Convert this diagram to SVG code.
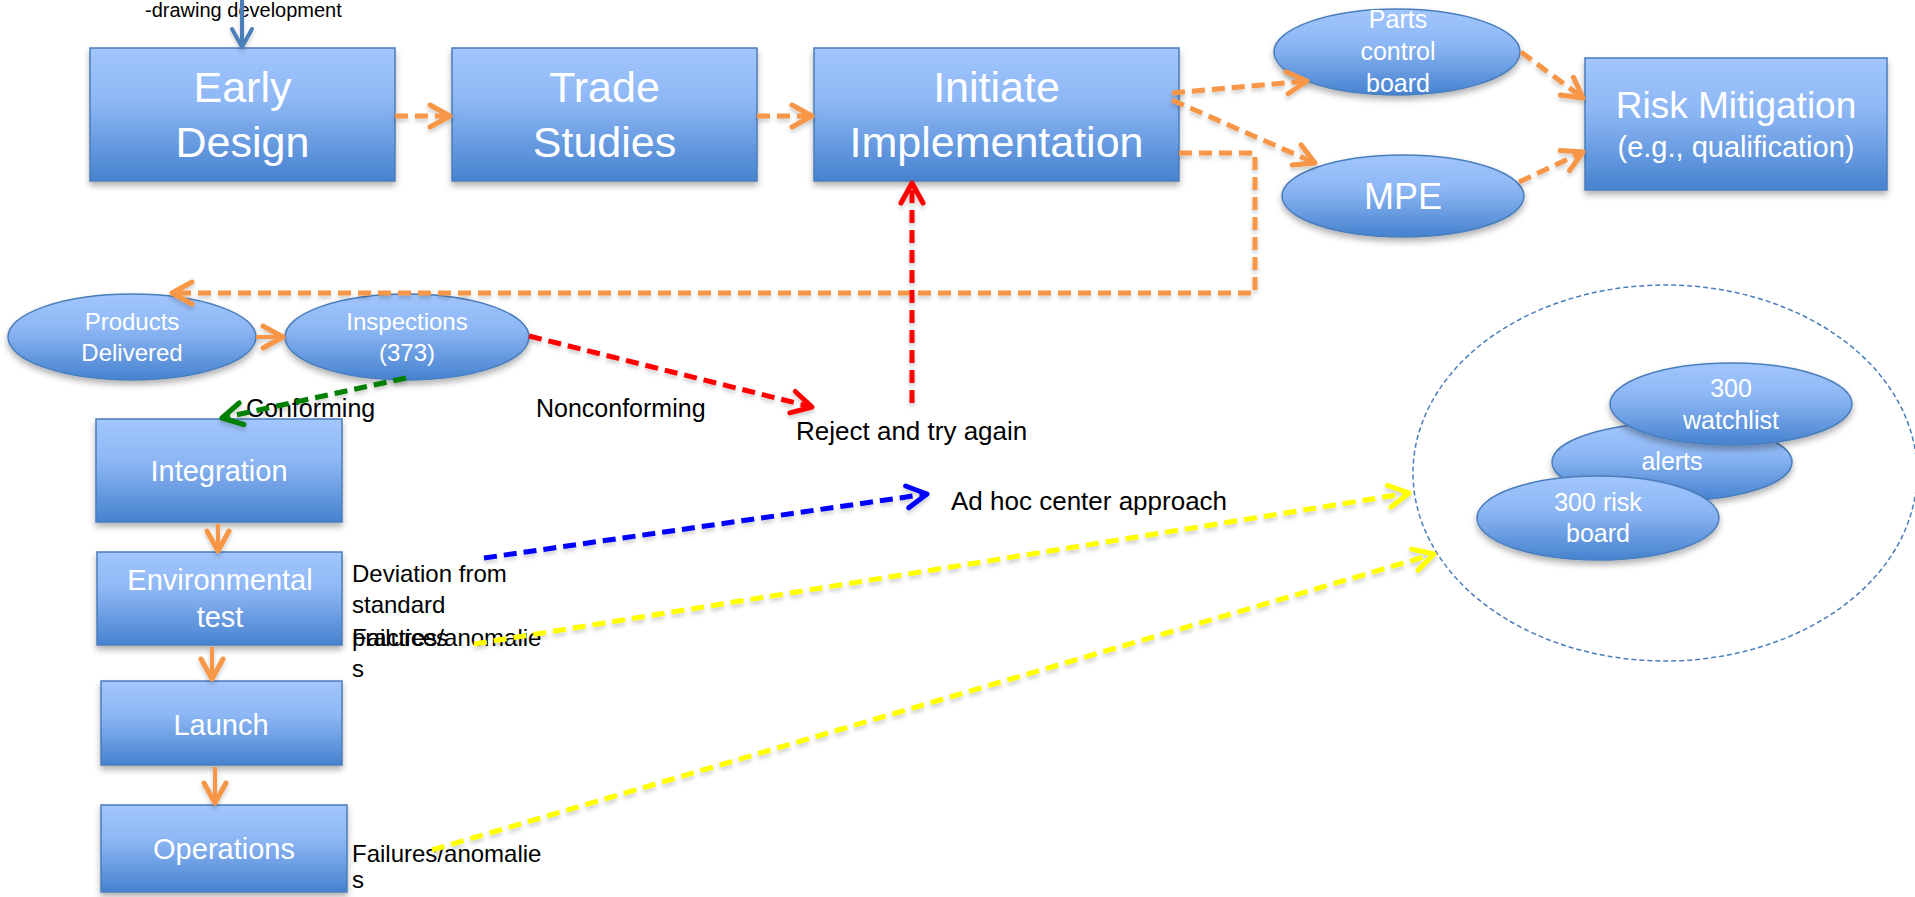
<svg xmlns="http://www.w3.org/2000/svg" width="1915" height="897" viewBox="0 0 1915 897">
<defs>
  <linearGradient id="g" x1="0" y1="0" x2="0" y2="1">
    <stop offset="0" stop-color="#a2c6fd"/>
    <stop offset="0.4" stop-color="#8db7f4"/>
    <stop offset="1" stop-color="#4682cf"/>
  </linearGradient>
  <filter id="sh" x="-10%" y="-10%" width="120%" height="130%">
    <feDropShadow dx="0" dy="4" stdDeviation="3" flood-color="#000" flood-opacity="0.3"/>
  </filter>
  <filter id="lsh" filterUnits="userSpaceOnUse" x="0" y="0" width="1915" height="897">
    <feDropShadow dx="0" dy="3" stdDeviation="2" flood-color="#000" flood-opacity="0.2"/>
  </filter>
  <marker id="mo" markerUnits="userSpaceOnUse" markerWidth="30" markerHeight="30" refX="0" refY="0" viewBox="-24 -15 30 30" orient="auto" overflow="visible">
    <path d="M -20 -11 L 0 0 L -20 11" fill="none" stroke="#f79646" stroke-width="5" stroke-linecap="round" stroke-linejoin="round"/>
  </marker>
  <marker id="mr" markerUnits="userSpaceOnUse" markerWidth="30" markerHeight="30" refX="0" refY="0" viewBox="-24 -15 30 30" orient="auto" overflow="visible">
    <path d="M -20 -11 L 0 0 L -20 11" fill="none" stroke="#ff0000" stroke-width="5" stroke-linecap="round" stroke-linejoin="round"/>
  </marker>
  <marker id="mg" markerUnits="userSpaceOnUse" markerWidth="30" markerHeight="30" refX="0" refY="0" viewBox="-24 -15 30 30" orient="auto" overflow="visible">
    <path d="M -20 -11 L 0 0 L -20 11" fill="none" stroke="#008000" stroke-width="5" stroke-linecap="round" stroke-linejoin="round"/>
  </marker>
  <marker id="mb" markerUnits="userSpaceOnUse" markerWidth="30" markerHeight="30" refX="0" refY="0" viewBox="-24 -15 30 30" orient="auto" overflow="visible">
    <path d="M -20 -11 L 0 0 L -20 11" fill="none" stroke="#0000ff" stroke-width="5" stroke-linecap="round" stroke-linejoin="round"/>
  </marker>
  <marker id="my" markerUnits="userSpaceOnUse" markerWidth="30" markerHeight="30" refX="0" refY="0" viewBox="-24 -15 30 30" orient="auto" overflow="visible">
    <path d="M -20 -11 L 0 0 L -20 11" fill="none" stroke="#ffff00" stroke-width="5" stroke-linecap="round" stroke-linejoin="round"/>
  </marker>
  <marker id="ms" markerUnits="userSpaceOnUse" markerWidth="30" markerHeight="30" refX="0" refY="0" viewBox="-24 -15 30 30" orient="auto" overflow="visible">
    <path d="M -18 -10 L 0 0 L -18 10" fill="none" stroke="#4a7ebb" stroke-width="4" stroke-linecap="round" stroke-linejoin="round"/>
  </marker>
</defs>
<style>
  .box { fill: url(#g); stroke: #4a7ebb; stroke-width: 1.5; filter: url(#sh); }
  .w { fill: #ffffff; font-family: "Liberation Sans", Arial, sans-serif; text-anchor: middle; }
  .k { fill: #000000; font-family: "Liberation Sans", Arial, sans-serif; }
  .c { fill: none; stroke-width: 5; stroke-dasharray: 13 7; }
  .o { stroke: #f79646; }
  .solid { fill: none; stroke: #f79646; stroke-width: 4; }
</style>
<rect width="1915" height="897" fill="#ffffff"/>

<g id="early-design">
  <rect class="box" x="90" y="48" width="305" height="133"/>
  <text class="w" font-size="43"><tspan x="242.5" y="102">Early</tspan><tspan x="242.5" y="157">Design</tspan></text>
</g>
<g id="trade-studies">
  <rect class="box" x="452" y="48" width="305" height="133"/>
  <text class="w" font-size="43"><tspan x="604.5" y="102">Trade</tspan><tspan x="604.5" y="157">Studies</tspan></text>
</g>
<g id="initiate-implementation">
  <rect class="box" x="814" y="48" width="365" height="133"/>
  <text class="w" font-size="43"><tspan x="996.5" y="102">Initiate</tspan><tspan x="996.5" y="157">Implementation</tspan></text>
</g>
<g id="parts-control-board">
  <ellipse class="box" cx="1397" cy="52" rx="123" ry="43"/>
  <text class="w" font-size="25"><tspan x="1398" y="28">Parts</tspan><tspan x="1398" y="60">control</tspan><tspan x="1398" y="92">board</tspan></text>
</g>
<g id="mpe">
  <ellipse class="box" cx="1403" cy="196" rx="121" ry="41"/>
  <text class="w" font-size="36" x="1403" y="209">MPE</text>
</g>
<g id="risk-mitigation">
  <rect class="box" x="1585" y="58" width="302" height="132"/>
  <text class="w"><tspan x="1736" y="118" font-size="37">Risk Mitigation</tspan><tspan x="1736" y="157" font-size="29">(e.g., qualification)</tspan></text>
</g>
<g id="products-delivered">
  <ellipse class="box" cx="132" cy="337" rx="124" ry="43"/>
  <text class="w" font-size="24"><tspan x="132" y="330">Products</tspan><tspan x="132" y="361">Delivered</tspan></text>
</g>
<g id="inspections">
  <ellipse class="box" cx="407" cy="337" rx="122" ry="43"/>
  <text class="w" font-size="24"><tspan x="407" y="330">Inspections</tspan><tspan x="407" y="361">(373)</tspan></text>
</g>
<g id="integration">
  <rect class="box" x="96" y="419" width="246" height="103"/>
  <text class="w" font-size="29" x="219" y="481">Integration</text>
</g>
<g id="environmental-test">
  <rect class="box" x="97" y="552" width="245" height="93"/>
  <text class="w" font-size="29"><tspan x="220" y="590">Environmental</tspan><tspan x="220" y="627">test</tspan></text>
</g>
<g id="launch">
  <rect class="box" x="101" y="681" width="241" height="84"/>
  <text class="w" font-size="29" x="221" y="735">Launch</text>
</g>
<g id="operations">
  <rect class="box" x="101" y="805" width="246" height="87"/>
  <text class="w" font-size="29" x="224" y="859">Operations</text>
</g>
<g id="risk-group">
  <ellipse cx="1665" cy="473" rx="252" ry="188" fill="none" stroke="#4a7ebb" stroke-width="1.5" stroke-dasharray="5 3"/>
</g>
<g id="alerts">
  <ellipse class="box" cx="1672" cy="462" rx="120" ry="39"/>
  <text class="w" font-size="25" x="1672" y="470">alerts</text>
</g>
<g id="watchlist">
  <ellipse class="box" cx="1731" cy="404" rx="121" ry="41"/>
  <text class="w" font-size="25"><tspan x="1731" y="397">300</tspan><tspan x="1731" y="429">watchlist</tspan></text>
</g>
<g id="risk-board">
  <ellipse class="box" cx="1598" cy="518" rx="121" ry="42"/>
  <text class="w" font-size="25"><tspan x="1598" y="511">300 risk</tspan><tspan x="1598" y="542">board</tspan></text>
</g>

<g id="labels">
  <text class="k" font-size="20" x="145" y="17">-drawing development</text>
  <text class="k" font-size="25" x="246" y="417">Conforming</text>
  <text class="k" font-size="25" x="536" y="417">Nonconforming</text>
  <text class="k" font-size="26" x="796" y="440">Reject and try again</text>
  <text class="k" font-size="26" x="951" y="510">Ad hoc center approach</text>
  <text class="k" font-size="24"><tspan x="352" y="582">Deviation from</tspan><tspan x="352" y="613">standard</tspan><tspan x="352" y="646">practices</tspan></text>
  <text class="k" font-size="24"><tspan x="352" y="646">Failures/anomalie</tspan><tspan x="352" y="677">s</tspan></text>
  <text class="k" font-size="24"><tspan x="352" y="862">Failures/anomalie</tspan><tspan x="352" y="888">s</tspan></text>
</g>

<g id="connectors" filter="url(#lsh)">
  <line x1="242" y1="0" x2="242" y2="47" stroke="#4a7ebb" stroke-width="4" marker-end="url(#ms)"/>
  <line class="c o" x1="395" y1="116" x2="450" y2="116" marker-end="url(#mo)"/>
  <line class="c o" x1="757" y1="116" x2="812" y2="116" marker-end="url(#mo)"/>
  <line class="c o" x1="1172" y1="93" x2="1307" y2="81" marker-end="url(#mo)"/>
  <line class="c o" x1="1172" y1="100" x2="1315" y2="163" marker-end="url(#mo)"/>
  <line class="c o" x1="1521" y1="52" x2="1583" y2="98" marker-end="url(#mo)"/>
  <line class="c o" x1="1519" y1="182" x2="1583" y2="152" marker-end="url(#mo)"/>
  <polyline class="c o" points="1179,153 1255,153 1255,293 172,293" marker-end="url(#mo)"/>
  <line class="solid" x1="256" y1="337" x2="283" y2="337" marker-end="url(#mo)"/>
  <line class="c" stroke="#008000" x1="406" y1="378" x2="222" y2="418" marker-end="url(#mg)"/>
  <line class="c" stroke="#ff0000" x1="529" y1="336" x2="812" y2="407" marker-end="url(#mr)"/>
  <line class="c" stroke="#ff0000" x1="912" y1="403" x2="912" y2="183" marker-end="url(#mr)"/>
  <line class="solid" x1="218" y1="524" x2="218" y2="551" marker-end="url(#mo)"/>
  <line class="solid" x1="212" y1="647" x2="212" y2="679" marker-end="url(#mo)"/>
  <line class="solid" x1="215" y1="767" x2="215" y2="803" marker-end="url(#mo)"/>
  <line class="c" stroke="#0000ff" x1="484" y1="558" x2="927" y2="494" marker-end="url(#mb)"/>
  <line class="c" stroke="#ffff00" x1="474" y1="644" x2="1409" y2="493" marker-end="url(#my)"/>
  <line class="c" stroke="#ffff00" x1="432" y1="850" x2="1434" y2="554" marker-end="url(#my)"/>
</g>
</svg>
